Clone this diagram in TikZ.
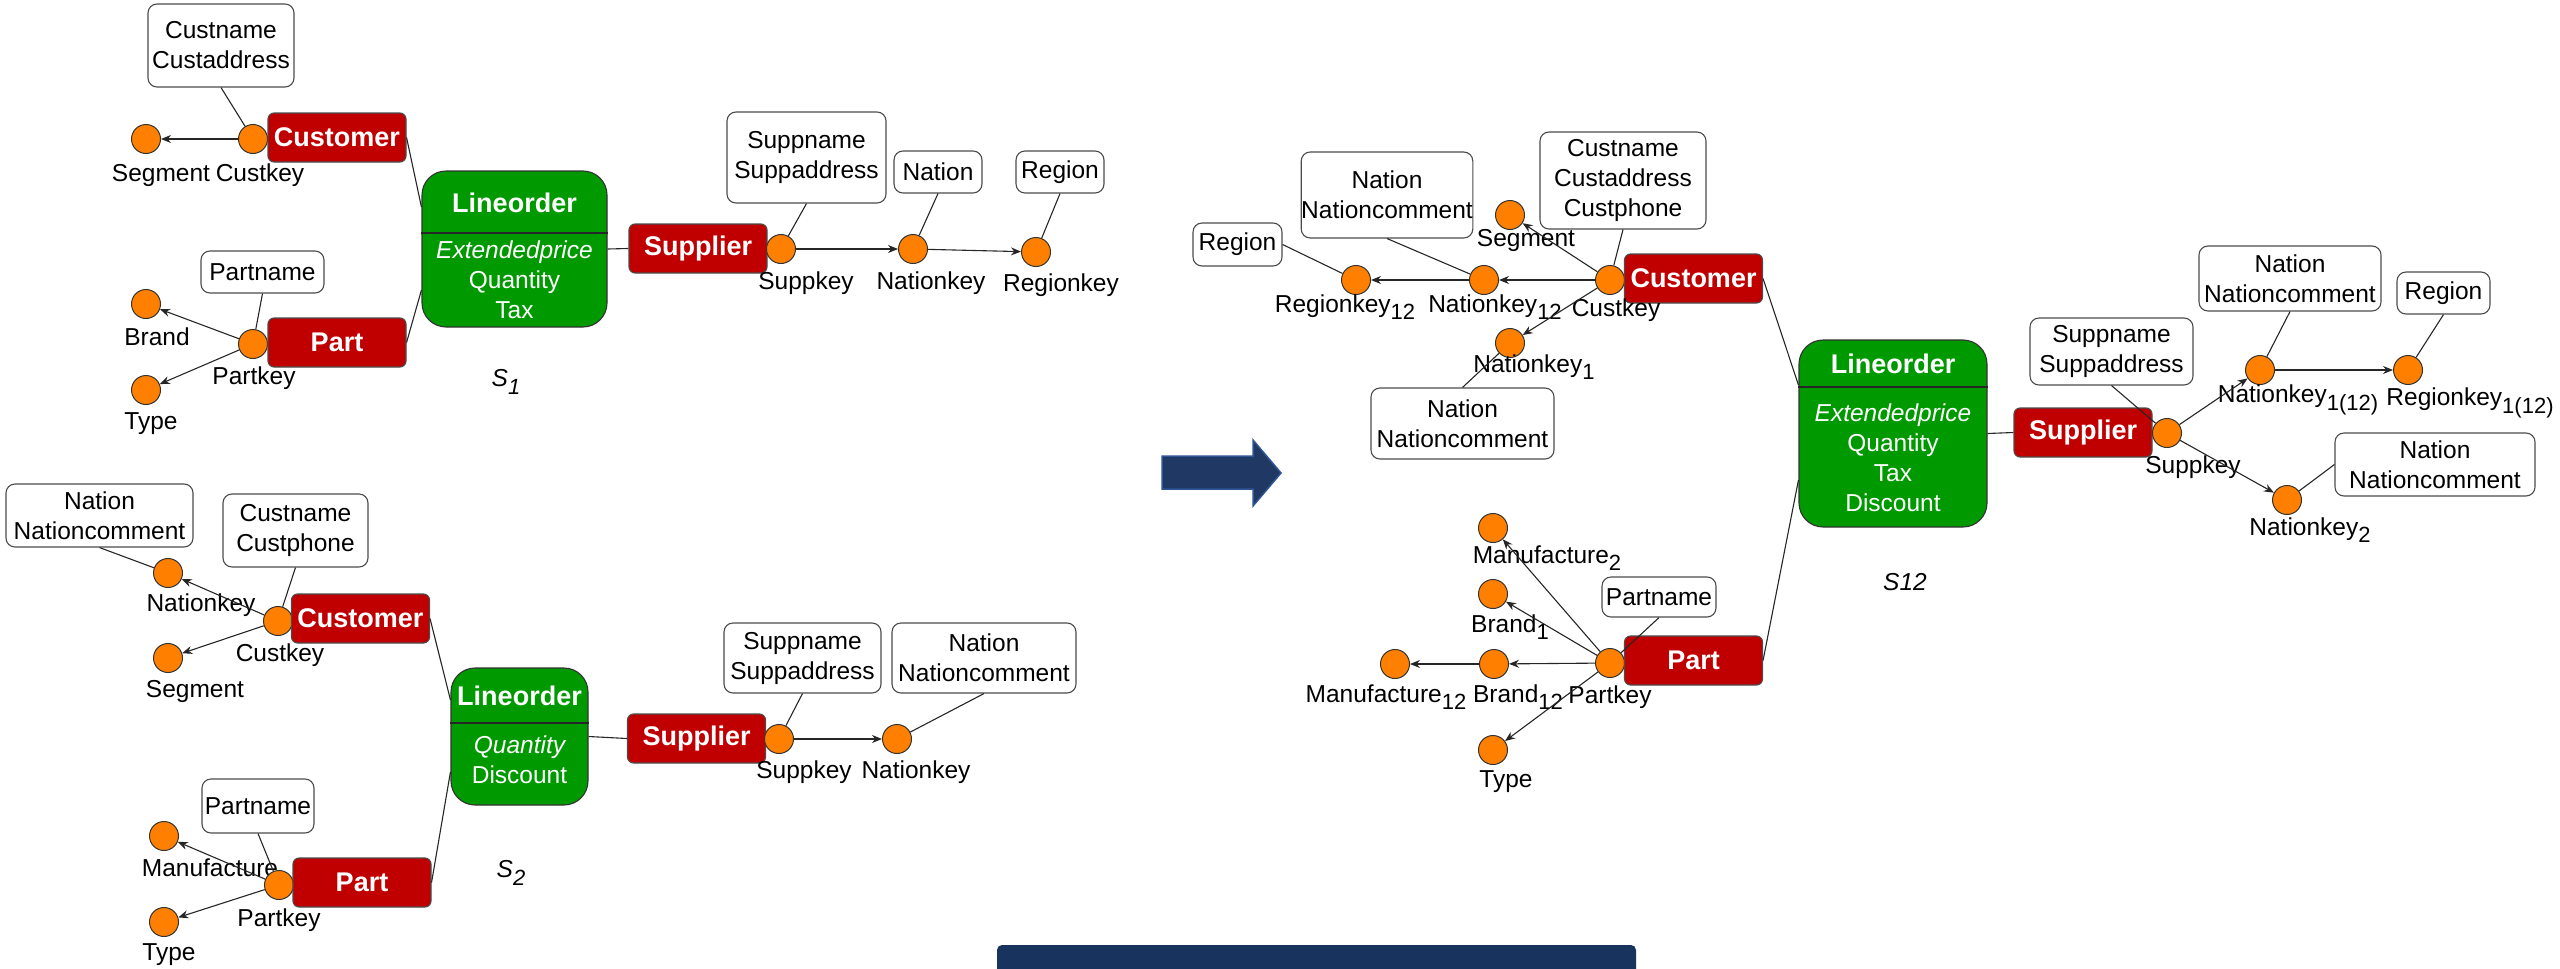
\documentclass[tikz,border=0pt]{standalone}
\usepackage{fontspec}
\setmainfont{Liberation Sans}
\usetikzlibrary{arrows.meta}
\definecolor{entred}{RGB}{192,0,0}
\definecolor{factgreen}{RGB}{0,153,0}
\definecolor{keyorange}{RGB}{255,128,0}
\definecolor{navyfill}{RGB}{31,56,100}
\definecolor{navyedge}{RGB}{47,85,151}
\definecolor{barnavy}{RGB}{23,51,94}
\newcommand\subtxt[1]{\raisebox{-0.3em}{\fontsize{22}{22}\selectfont #1}}

\begin{document}
\begin{tikzpicture}[x=1pt,y=-1pt,
  every node/.style={font=\fontsize{24.5}{30}\selectfont},
  keycirc/.style={circle,draw=black!80,line width=1pt,fill=keyorange,minimum size=29pt,inner sep=0pt},
  attr/.style={draw=black!70,line width=1.1pt,fill=white,rounded corners=9pt,align=center,inner sep=0pt},
  ent/.style={draw=black!70,line width=1.1pt,fill=entred,rounded corners=6pt,text=white,
    font=\fontsize{27}{30}\selectfont\bfseries,minimum width=138pt,minimum height=49pt,inner sep=0pt},
  fact/.style={draw=black!80,line width=1.1pt,fill=factgreen,rounded corners=24pt,inner sep=0pt},
  facthead/.style={text=white,inner sep=0pt,font=\fontsize{27}{30}\selectfont\bfseries},
  facttxt/.style={text=white,align=center,inner sep=0pt},
  lbl/.style={inner sep=0pt},
  conn/.style={draw=black!85,line width=1.1pt},
  fk/.style={conn,-{Stealth[length=10pt,width=8pt]}},
  divider/.style={draw=black!85,line width=1.5pt}
]
\useasboundingbox (0,0) rectangle (2560,969);

% ---------------- schema S1 ----------------
\node[attr,minimum width=146pt,minimum height=83pt] (cn1) at (221,45.5) {Custname\\Custaddress};
\node[keycirc] (sg1) at (146,139) {};
\node[keycirc] (ck1) at (253,139) {};
\node[ent] (cu1) at (337,137.5) {Customer};
\node[lbl] (sg1l) at (161,175) {Segment};
\node[lbl] (ck1l) at (260,175) {Custkey};
\node[attr,minimum width=123pt,minimum height=42pt] (pn1) at (262.5,272) {Partname};
\node[keycirc] (br1) at (146,304) {};
\node[lbl] (br1l) at (157,337) {Brand};
\node[keycirc] (pk1) at (253,344) {};
\node[ent] (pt1) at (337,342.5) {Part};
\node[lbl] (pk1l) at (254,378) {Partkey};
\node[keycirc] (ty1) at (146,390) {};
\node[lbl] (ty1l) at (151,424) {Type};
\node[fact,minimum width=185pt,minimum height=156pt] (lo1) at (514.5,249) {};
\node[facthead] (lo1h) at (514.5,203) {Lineorder};
\node[facttxt] (lo1b) at (514.5,280) {{\itshape Extendedprice}\\Quantity\\Tax};
\node[lbl,font=\fontsize{24.5}{30}\selectfont\itshape] (s1l) at (506,382) {S\subtxt{1}};
\node[ent] (su1) at (698,248.5) {Supplier};
\node[keycirc] (sk1) at (781,249) {};
\node[keycirc] (nk1) at (913,249) {};
\node[keycirc] (rk1) at (1036,252) {};
\node[attr,minimum width=159pt,minimum height=91pt] (sn1) at (806.5,157.5) {Suppname\\Suppaddress};
\node[attr,minimum width=88pt,minimum height=42pt] (na1) at (938,172) {Nation};
\node[attr,minimum width=88pt,minimum height=42pt] (re1) at (1060,172) {Region};
\node[lbl] (sk1l) at (806,283) {Suppkey};
\node[lbl] (nk1l) at (931,283) {Nationkey};
\node[lbl] (rk1l) at (1061,285) {Regionkey};

\draw[divider] ([yshift=16pt]lo1.west) -- ([yshift=16pt]lo1.east);
\draw[fk] (ck1) -- (sg1);
\draw[conn] (cn1.south) -- (ck1);
\draw[conn] (cu1.east) -- ([yshift=42pt]lo1.west);
\draw[fk] (pk1) -- (br1);
\draw[fk] (pk1) -- (ty1);
\draw[conn] (pn1.south) -- (pk1);
\draw[conn] (pt1.east) -- ([yshift=-41pt]lo1.west);
\draw[conn] (lo1.east) -- (su1.west);
\draw[fk] (sk1) -- (nk1);
\draw[fk] (nk1) -- (rk1);
\draw[conn] (sn1.south) -- (sk1);
\draw[conn] (na1.south) -- (nk1);
\draw[conn] (re1.south) -- (rk1);

% ---------------- schema S2 ----------------
\node[attr,minimum width=187pt,minimum height=63pt] (nn2) at (99.5,515.5) {Nation\\Nationcomment};
\node[attr,minimum width=145pt,minimum height=73pt] (cp2) at (295.5,530.5) {Custname\\Custphone};
\node[keycirc] (nk2) at (168,573) {};
\node[lbl] (nk2l) at (201,605) {Nationkey};
\node[keycirc] (ck2) at (278,621) {};
\node[ent] (cu2) at (360.5,618.5) {Customer};
\node[lbl] (ck2l) at (280,655) {Custkey};
\node[keycirc] (sg2) at (168,658) {};
\node[lbl] (sg2l) at (195,691) {Segment};
\node[attr,minimum width=112pt,minimum height=54pt] (pn2) at (258,806) {Partname};
\node[keycirc] (mf2) at (164,836) {};
\node[lbl] (mf2l) at (210,868) {Manufacture};
\node[keycirc] (pk2) at (279,885) {};
\node[ent] (pt2) at (362,882.5) {Part};
\node[lbl] (pk2l) at (279,920) {Partkey};
\node[keycirc] (ty2) at (164,922) {};
\node[lbl] (ty2l) at (169,955) {Type};
\node[fact,minimum width=137pt,minimum height=137pt] (lo2) at (519.5,736.5) {};
\node[facthead] (lo2h) at (519.5,696) {Lineorder};
\node[facttxt] (lo2b) at (519.5,760) {{\itshape Quantity}\\Discount};
\node[lbl,font=\fontsize{24.5}{30}\selectfont\itshape] (s2l) at (511,873) {S\subtxt{2}};
\node[ent] (su2) at (696.5,738.5) {Supplier};
\node[keycirc] (sk2) at (779,739) {};
\node[keycirc] (nk2b) at (897,739) {};
\node[attr,minimum width=157pt,minimum height=70pt] (sn2) at (802.5,658) {Suppname\\Suppaddress};
\node[attr,minimum width=184pt,minimum height=70pt] (nn2b) at (984,658) {Nation\\Nationcomment};
\node[lbl] (sk2l) at (804,772) {Suppkey};
\node[lbl] (nk2bl) at (916,772) {Nationkey};

\draw[divider] ([yshift=13.5pt]lo2.west) -- ([yshift=13.5pt]lo2.east);
\draw[conn] (nn2.south) -- (nk2);
\draw[conn] (cp2.south) -- (ck2);
\draw[fk] (ck2) -- (nk2);
\draw[fk] (ck2) -- (sg2);
\draw[conn] (pn2.south) -- (pk2);
\draw[fk] (pk2) -- (mf2);
\draw[fk] (pk2) -- (ty2);
\draw[conn] (cu2.east) -- ([yshift=36.5pt]lo2.west);
\draw[conn] (pt2.east) -- ([yshift=-35.5pt]lo2.west);
\draw[conn] (lo2.east) -- (su2.west);
\draw[fk] (sk2) -- (nk2b);
\draw[conn] (sn2.south) -- (sk2);
\draw[conn] (nn2b.south) -- (nk2b);

% ---------------- transformation arrow and bar ----------------
\filldraw[fill=navyfill,draw=navyedge,line width=1.5pt]
  (1162,456) -- (1253,456) -- (1253,440) -- (1281,473) -- (1253,506) -- (1253,489) -- (1162,489) -- cycle;
\fill[barnavy,rounded corners=5pt] (997,945) rectangle (1636,1000);

% ---------------- merged schema S12 ----------------
\node[attr,minimum width=89pt,minimum height=43pt] (re3) at (1237.5,244.5) {Region};
\node[attr,minimum width=170pt,minimum height=86pt] (nnt) at (1387,195) {Nation\\Nationcomment};
\node[attr,minimum width=166pt,minimum height=97pt] (cac) at (1623,180.5) {Custname\\Custaddress\\Custphone};
\node[keycirc] (sg3) at (1510,215) {};
\node[lbl] (sg3l) at (1526,240) {Segment};
\node[keycirc] (rk12) at (1356,280) {};
\node[keycirc] (nk12) at (1484,280) {};
\node[keycirc] (ck3) at (1610,280) {};
\node[ent] (cu3) at (1693.5,278.5) {Customer};
\node[lbl] (rk12l) at (1345,307) {Regionkey\subtxt{12}};
\node[lbl] (nk12l) at (1495,307) {Nationkey\subtxt{12}};
\node[lbl] (ck3l) at (1616,310) {Custkey};
\node[keycirc] (nk1c) at (1510,343) {};
\node[lbl] (nk1cl) at (1534,367) {Nationkey\subtxt{1}};
\node[attr,minimum width=183pt,minimum height=71pt] (nnl) at (1462.5,423.5) {Nation\\Nationcomment};

\node[fact,minimum width=188pt,minimum height=187pt] (lo3) at (1893,433.5) {};
\node[facthead] (lo3h) at (1893,364) {Lineorder};
\node[facttxt] (lo3b) at (1893,458) {{\itshape Extendedprice}\\Quantity\\Tax\\Discount};
\node[lbl,font=\fontsize{24.5}{30}\selectfont\itshape] (s12l) at (1905,582) {S12};

\node[ent] (su3) at (2083,432.5) {Supplier};
\node[keycirc] (sk3) at (2167,433) {};
\node[lbl] (sk3l) at (2193,467) {Suppkey};
\node[attr,minimum width=163pt,minimum height=67pt] (sn3) at (2111.5,351.5) {Suppname\\Suppaddress};
\node[attr,minimum width=182pt,minimum height=65pt] (nnu) at (2290,278.5) {Nation\\Nationcomment};
\node[keycirc] (nka) at (2260,370) {};
\node[lbl] (nkal) at (2298,400) {Nationkey\subtxt{1(12)}};
\node[attr,minimum width=93pt,minimum height=42pt] (re4) at (2443.5,293) {Region};
\node[keycirc] (rka) at (2408,370) {};
\node[lbl] (rkal) at (2470,403) {Regionkey\subtxt{1(12)}};
\node[keycirc] (nkb) at (2287,500) {};
\node[lbl] (nkbl) at (2310,530) {Nationkey\subtxt{2}};
\node[attr,minimum width=200pt,minimum height=63pt] (nnr) at (2435,464.5) {Nation\\Nationcomment};

\node[keycirc] (m2) at (1493,528) {};
\node[lbl] (m2l) at (1547,558) {Manufacture\subtxt{2}};
\node[keycirc] (b1) at (1493,594) {};
\node[lbl] (b1l) at (1510,627) {Brand\subtxt{1}};
\node[attr,minimum width=114pt,minimum height=40pt] (pn3) at (1659,597) {Partname};
\node[keycirc] (m12) at (1395,664) {};
\node[keycirc] (b12) at (1494,664) {};
\node[keycirc] (pk3) at (1610,663) {};
\node[ent] (pt3) at (1693.5,660.5) {Part};
\node[lbl] (m12l) at (1386,697) {Manufacture\subtxt{12}};
\node[lbl] (b12l) at (1518,697) {Brand\subtxt{12}};
\node[lbl] (pk3l) at (1610,697) {Partkey};
\node[keycirc] (ty3) at (1493,750) {};
\node[lbl] (ty3l) at (1506,782) {Type};

\draw[divider] ([yshift=46.5pt]lo3.west) -- ([yshift=46.5pt]lo3.east);
\draw[conn] (re3.east) -- (rk12);
\draw[conn] (nnt.south) -- (nk12);
\draw[conn] (cac.south) -- (ck3);
\draw[conn] (nnl.north) -- (nk1c);
\draw[fk] (ck3) -- (nk12);
\draw[fk] (nk12) -- (rk12);
\draw[fk] (ck3) -- (sg3);
\draw[fk] (ck3) -- (nk1c);
\draw[conn] (cu3.east) -- ([yshift=48.5pt]lo3.west);
\draw[conn] (pt3.east) -- ([yshift=-46.5pt]lo3.west);
\draw[conn] (lo3.east) -- (su3.west);
\draw[conn] (sn3.south) -- (sk3);
\draw[conn] (nnu.south) -- (nka);
\draw[conn] (re4.south) -- (rka);
\draw[conn] (nnr.west) -- (nkb);
\draw[fk] (sk3) -- (nka);
\draw[fk] (sk3) -- (nkb);
\draw[fk] (nka) -- (rka);
\draw[conn] (pn3.south) -- (pk3);
\draw[fk] (pk3) -- (m2);
\draw[fk] (pk3) -- (b1);
\draw[fk] (pk3) -- (b12);
\draw[fk] (b12) -- (m12);
\draw[fk] (pk3) -- (ty3);
\end{tikzpicture}
\end{document}
